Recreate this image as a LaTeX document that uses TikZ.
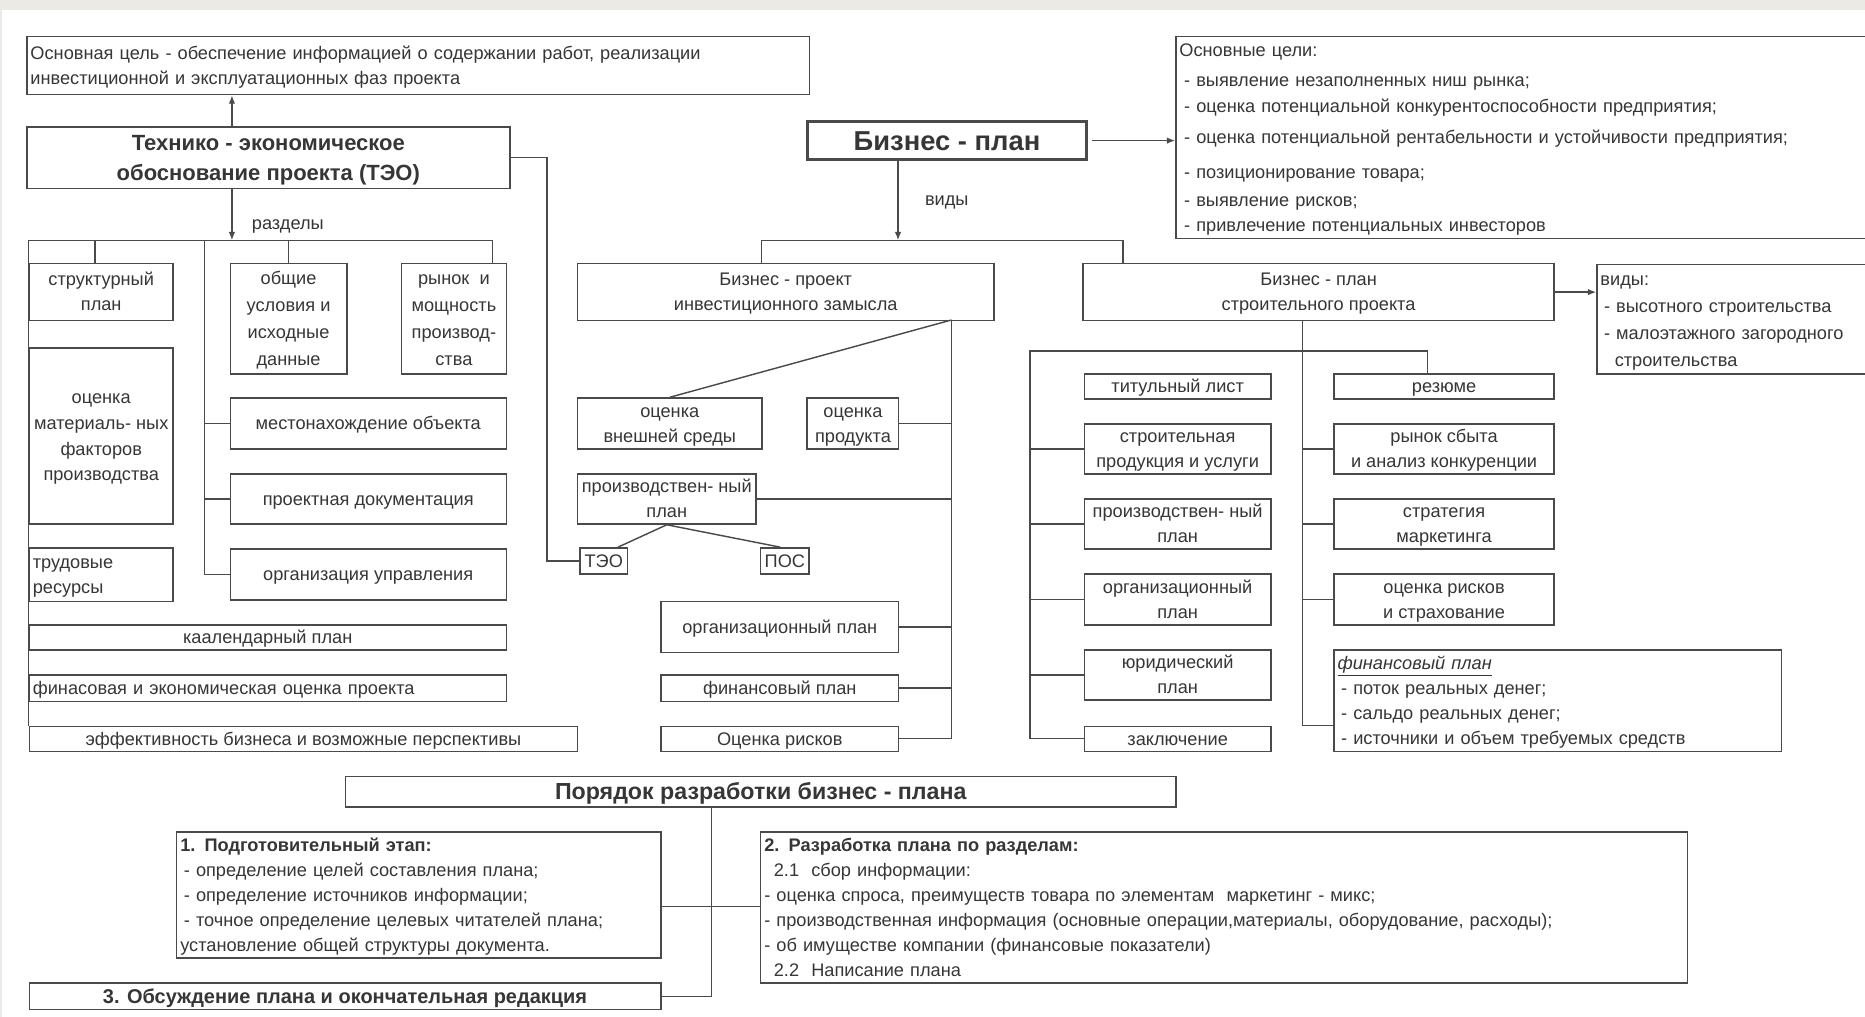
\documentclass[tikz,border=0pt]{standalone}
\usepackage{fontspec}
\setmainfont{Liberation Sans}
\usetikzlibrary{arrows.meta,calc}

\definecolor{ink}{HTML}{363636}
\definecolor{edge}{HTML}{4A4A4A}
\definecolor{paper}{HTML}{ECEAE4}

% every text block gets a fixed first-line height and last-line depth
\newcommand\topstrut{\rule{0pt}{0.95em}}
\newcommand\botstrut{\rule[-0.26em]{0pt}{0.26em}}

% boxes given by their corners: name, extra style, x1, y1, x2, y2, text
\newcommand\cbox[7]{%
  \node[box,#2,anchor=north west,align=center,
        minimum width={(#5-#3)*1pt},minimum height={(#6-#4)*1pt}]
        (#1) at (#3,#4) {\topstrut#7\botstrut};}
\newcommand\lbox[7]{%
  \node[box,#2,anchor=north west,align=left,inner xsep=3pt,
        text width={(#5-#3-6)*1pt},minimum height={(#6-#4)*1pt}]
        (#1) at (#3,#4) {\topstrut#7\botstrut};}

\tikzset{
  box/.style={draw=edge,line width=1.2pt,fill=white,text=ink,inner ysep=0pt,
              font=\fontsize{15.3}{21}\selectfont},
  tall/.style={font=\fontsize{15.3}{22.6}\selectfont},
  big/.style={font=\fontsize{18.5}{25}\selectfont\bfseries},
  wire/.style={draw=edge,line width=1.2pt},
  arr/.style={wire,-{Latex[length=7pt,width=5.5pt]}},
  lbl/.style={text=ink,font=\fontsize{15.3}{18}\selectfont},
}

\begin{document}
\begin{tikzpicture}[x=1pt,y=-1pt]
\useasboundingbox (0,0) rectangle (1568,855);
\fill[white] (0,0) rectangle (1568,855);
\fill[paper] (0,0) rectangle (1568,8);
\fill[paper] (0,0) rectangle (2,855);

% ---------- feasibility study (ТЭО) ----------
\lbox{goal}{}{22}{30}{680}{79}{Основная цель - обеспечение информацией о содержании работ, реализации\\инвестиционной и эксплуатационных фаз проекта}
\cbox{teo}{big}{22}{106}{428}{158}{Технико - экономическое\\обоснование проекта (ТЭО)}

\coordinate (tx) at (195,0);
\draw[arr] (tx |- teo.north) -- (tx |- goal.south);
\coordinate (tbus) at (195,202);
\draw[arr] (tx |- teo.south) -- (tbus);
\node[lbl] (razd) at (242,190) {разделы};

\cbox{struct}{}{24}{221}{145}{269}{структурный\\план}
\cbox{mater}{font=\fontsize{15.3}{21.5}\selectfont}{24}{292}{145}{440}{оценка\\материаль- ных\\факторов\\производства}
\lbox{trud}{}{24}{460}{145}{505}{трудовые\\ресурсы}
\cbox{kal}{}{24}{525}{425}{546}{каалендарный план}
\lbox{finec}{}{24}{567}{425}{589}{финасовая и экономическая оценка проекта}
\cbox{eff}{}{24}{610}{485}{631}{эффективность бизнеса и возможные перспективы}

\cbox{obsh}{tall}{193}{221}{291}{314}{общие\\условия и\\исходные\\данные}
\cbox{rynok}{tall}{337}{221}{425}{314}{рынок~ и\\мощность\\производ-\\ства}
\cbox{mest}{}{193}{334}{425}{377}{местонахождение объекта}
\cbox{pdoc}{}{193}{398}{425}{440}{проектная документация}
\cbox{orgu}{}{193}{461}{425}{504}{организация управления}

% section bus of the feasibility study
\draw[wire] (24,202) -- (414,202);
\draw[wire] (24,202) -- (eff.north west);
\draw[wire] (80,202) -- (struct.north -| 80,0);
\draw[wire] (obsh.north |- 0,202) -- (obsh.north);
\draw[wire] (414,202) -- (414,0 |- rynok.north);
\draw[wire] (172,202) -- (172,0 |- orgu.west);
\foreach \n in {mest,pdoc,orgu} \draw[wire] (172,0 |- \n.west) -- (\n.west);

% ---------- business plan ----------
\cbox{bp}{line width=2.4pt,font=\fontsize{23}{26}\selectfont\bfseries}{678}{101}{912}{133}{Бизнес - план}
\lbox{aims}{font=\fontsize{15.3}{22}\selectfont}{988}{30}{1578}{200}{Основные цели:\\[3pt]
\hspace{4pt}- выявление незаполненных ниш рынка;\\
\hspace{4pt}- оценка потенциальной конкурентоспособности предприятия;\\[4pt]
\hspace{4pt}- оценка потенциальной рентабельности и устойчивости предприятия;\\[8pt]
\hspace{4pt}- позиционирование товара;\\[1pt]
\hspace{4pt}- выявление рисков;\\[-1pt]
\hspace{4pt}- привлечение потенциальных инвесторов}
\draw[arr] ($(bp.east)+(4,0)$) -- (aims.west |- bp.east);

\coordinate (bx) at (755,0);
\coordinate (bbus) at (755,202);
\draw[arr] (bx |- bp.south) -- (bbus);
\node[lbl] (vidy) at (796,170) {виды};

\cbox{bproj}{}{485}{221}{835}{269}{Бизнес - проект\\инвестиционного замысла}
\cbox{bstr}{}{910}{221}{1306}{269}{Бизнес - план\\строительного проекта}
\draw[wire] (bproj.north -| 640,0) -- (640,202) -- (944,202) -- (944,0 |- bstr.north);

% investment project branch
\cbox{vnesh}{}{485}{334}{640}{377}{оценка\\внешней среды}
\cbox{prodk}{}{678}{334}{755}{377}{оценка\\продукта}
\cbox{pplan}{}{485}{398}{635}{440}{производствен- ный\\план}
\cbox{teos}{}{487}{460}{527}{482}{ТЭО}
\cbox{pos}{}{639}{460}{678}{482}{ПОС}
\cbox{orgp}{}{555}{505}{755}{548}{организационный план}
\cbox{finp}{}{555}{567}{755}{589}{финансовый план}
\cbox{risk}{}{555}{610}{755}{631}{Оценка рисков}

\coordinate (px) at (800,269);
\draw[wire] (px) -- (800,0 |- risk.east);
\draw[wire] (px) -- (vnesh.north);
\foreach \n in {prodk,orgp,finp,risk} \draw[wire] (\n.east) -- (800,0 |- \n.east);
\draw[wire] (pplan.east) -- (800,0 |- pplan.east);
\draw[wire] (pplan.south) -- ($(teos.north)+(12,0)$);
\draw[wire] (pplan.south) -- ($(pos.north)+(-4,0)$);
\draw[wire] (teo.east) -- (460,0 |- teo.east) -- (460,0 |- teos.west) -- (teos.west);

% construction project branch
\lbox{kinds}{tall}{1342}{222}{1578}{314}{виды:\\
\hspace{3pt}- высотного строительства\\
\hspace{3pt}- малоэтажного загородного\\
\hspace{12pt}строительства}
\draw[arr] (bstr.east) -- (kinds.west |- bstr.east);

\cbox{titul}{}{911}{314}{1068}{335}{титульный лист}
\cbox{stprod}{}{911}{356}{1068}{398}{строительная\\продукция и услуги}
\cbox{pp2}{}{911}{419}{1068}{461}{производствен- ный\\план}
\cbox{org2}{}{911}{482}{1068}{525}{организационный\\план}
\cbox{yur}{}{911}{546}{1068}{588}{юридический\\план}
\cbox{zakl}{}{911}{610}{1068}{631}{заключение}

\cbox{rez}{}{1121}{314}{1306}{335}{резюме}
\cbox{sbyt}{}{1121}{356}{1306}{398}{рынок сбыта\\и анализ конкуренции}
\cbox{strat}{}{1121}{419}{1306}{461}{стратегия\\маркетинга}
\cbox{rins}{}{1121}{482}{1306}{525}{оценка рисков\\и страхование}
\lbox{finb}{}{1121}{546}{1497}{631}{\underline{\itshape финансовый план}\\
\hspace{3pt}- поток реальных денег;\\
\hspace{3pt}- сальдо реальных денег;\\
\hspace{3pt}- источники и объем требуемых средств}

\coordinate (sx) at (1095,269);
\draw[wire] (bstr.south -| sx) -- (1095,610) -- (finb.west |- 0,610);
\foreach \n in {sbyt,strat,rins} \draw[wire] (1095,0 |- \n.west) -- (\n.west);
\draw[wire] (866,0 |- zakl.west) -- (866,295) -- (1200,295) -- (1200,0 |- rez.north);
\foreach \n in {stprod,pp2,org2,yur,zakl} \draw[wire] (866,0 |- \n.west) -- (\n.west);

% ---------- development order ----------
\cbox{order}{font=\fontsize{19.5}{22}\selectfont\bfseries}{290}{652}{988}{678}{Порядок разработки бизнес - плана}
\lbox{st1}{}{148}{699}{555}{805}{\textbf{1. Подготовительный этап:}\\
\hspace{3pt}- определение целей составления плана;\\
\hspace{3pt}- определение источников информации;\\
\hspace{3pt}- точное определение целевых читателей плана;\\
установление общей структуры документа.}
\lbox{st2}{}{639}{699}{1418}{826}{\textbf{2. Разработка плана по разделам:}\\
\hspace{8pt}2.1~ сбор информации:\\
- оценка спроса, преимуществ товара по элементам~ маркетинг - микс;\\
- производственная информация (основные операции,материалы, оборудование, расходы);\\
- об имуществе компании (финансовые показатели)\\
\hspace{8pt}2.2~ Написание плана}
\cbox{st3}{font=\fontsize{16.8}{19}\selectfont\bfseries}{24}{826}{555}{848}{3. Обсуждение плана и окончательная редакция}

\draw[wire] (order.south -| 598,0) -- (598,0 |- st3.east) -- (st3.east);
\draw[wire] (st1.east |- 0,762) -- (st2.west |- 0,762);
\end{tikzpicture}
\end{document}
